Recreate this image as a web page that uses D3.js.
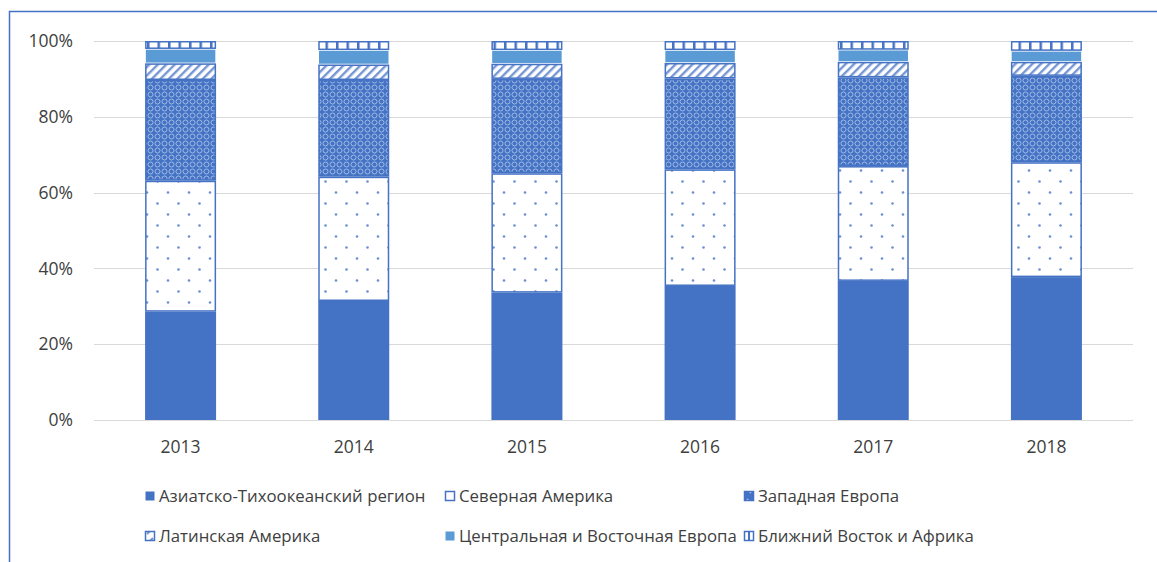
<!DOCTYPE html>
<html>
<head>
<meta charset="utf-8">
<script src="https://cdn.jsdelivr.net/npm/d3@7"></script>
<style>
  body { margin: 0; background: #fff; }
  svg text { font-family: "Open Sans", "Noto Sans", sans-serif; fill: #404040; }
</style>
</head>
<body>
<div id="chart"></div>
<script>
// ---------- data (shares, %) ----------
const years = ["2013", "2014", "2015", "2016", "2017", "2018"];
const regions = [
  "Азиатско-Тихоокеанский регион",
  "Северная Америка",
  "Западная Европа",
  "Латинская Америка",
  "Центральная и Восточная Европа",
  "Ближний Восток и Африка"
];
const asiaPacific   = [28.6, 31.4, 33.6, 35.4, 36.7, 37.7];
const northAmerica  = [34.6, 32.8, 31.5, 30.8, 30.3, 30.3];
const westEurope    = [26.6, 25.5, 24.9, 24.0, 23.4, 22.8];
const latinAmerica  = [4.4, 4.1, 4.0, 4.1, 4.1, 3.7];
const centralEurope = [3.8, 3.8, 3.6, 3.4, 3.2, 2.9];
const middleEast    = [2.1, 2.4, 2.4, 2.4, 2.3, 2.6];
const yTicks = [0, 0.2, 0.4, 0.6, 0.8, 1];

const series = [asiaPacific, northAmerica, westEurope, latinAmerica, centralEurope, middleEast];
const rows = years.map((y, i) => {
  let r = { year: y };
  regions.forEach((name, k) => r[name] = series[k][i]);
  return r;
});

const blue = "#4472C4";
const lightBlue = "#5B9BD5";

const width = 1157, height = 562;
const svg = d3.select("#chart").append("svg")
  .attr("width", width)
  .attr("height", height);

//----------------------------------------
// Patterns
//----------------------------------------
const defs = svg.append("defs");

// dots (north america)
let pDots = defs.append("pattern").attr("id", "pDots")
  .attr("patternUnits", "userSpaceOnUse").attr("width", 21).attr("height", 22);
pDots.append("rect").attr("width", 21).attr("height", 22).attr("fill", "#fff");
pDots.append("circle").attr("cx", 10.5).attr("cy", 5.5).attr("r", 1.3).attr("fill", "#6a8fd2");
pDots.append("circle").attr("cx", 0).attr("cy", 16.5).attr("r", 1.3).attr("fill", "#6a8fd2");
pDots.append("circle").attr("cx", 21).attr("cy", 16.5).attr("r", 1.3).attr("fill", "#6a8fd2");

// rings (west europe)
let pRings = defs.append("pattern").attr("id", "pRings")
  .attr("patternUnits", "userSpaceOnUse").attr("width", 7).attr("height", 7);
pRings.append("rect").attr("width", 7).attr("height", 7).attr("fill", blue);
pRings.append("circle").attr("cx", 3.5).attr("cy", 3.5).attr("r", 2.5)
  .attr("fill", "none").attr("stroke", "#a9bfe6").attr("stroke-width", 0.9);

// wide upward diagonal (latin america)
let pDiag = defs.append("pattern").attr("id", "pDiag")
  .attr("patternUnits", "userSpaceOnUse").attr("width", 6).attr("height", 6)
  .attr("patternTransform", "rotate(45)");
pDiag.append("rect").attr("width", 6).attr("height", 6).attr("fill", "#fff");
pDiag.append("rect").attr("width", 2.4).attr("height", 6).attr("fill", "#7596d3");

// vertical lines (middle east)
let pVert = defs.append("pattern").attr("id", "pVert")
  .attr("patternUnits", "userSpaceOnUse").attr("width", 10.5).attr("height", 10);
pVert.append("rect").attr("width", 10.5).attr("height", 10).attr("fill", "#fff");
pVert.append("rect").attr("width", 2.5).attr("height", 10).attr("fill", blue);

const fills = [blue, "url(#pDots)", "url(#pRings)", "url(#pDiag)", lightBlue, "url(#pVert)"];
const legendFills = [blue, "#fff", "url(#pRingsL)", "url(#pDiagL)", lightBlue, "url(#pVertL)"];

//----------------------------------------
// Frame
//----------------------------------------
svg.append("rect")
  .attr("x", 9.5).attr("y", 11.5)
  .attr("width", 1200).attr("height", 600)
  .attr("fill", "none").attr("stroke", blue).attr("stroke-width", 1.5);

//----------------------------------------
// Scales
//----------------------------------------
const x = d3.scaleBand().domain(years).range([94, 1133])
  .paddingInner(0.59).paddingOuter(0.295);
const y = d3.scaleLinear().domain([0, 1]).range([420, 41]);

// gridlines
svg.append("g").selectAll("line")
  .data(yTicks)
  .enter()
  .append("line")
  .attr("x1", 94).attr("x2", 1133)
  .attr("y1", d => Math.round(y(d)) + 0.5)
  .attr("y2", d => Math.round(y(d)) + 0.5)
  .attr("stroke", "#d9d9d9").attr("stroke-width", 1);

// y tick labels
svg.append("g").selectAll("text")
  .data(yTicks)
  .enter()
  .append("text")
  .attr("x", 73)
  .attr("y", d => y(d))
  .attr("dy", "0.35em")
  .attr("text-anchor", "end")
  .style("font-size", "17.5px")
  .text(d => d3.format(".0%")(d));

// x labels
svg.append("g").selectAll("text")
  .data(years)
  .enter()
  .append("text")
  .attr("x", d => x(d) + x.bandwidth() / 2)
  .attr("y", 447)
  .attr("dy", "0.35em")
  .attr("text-anchor", "middle")
  .style("font-size", "17.5px")
  .text(d => d);

//----------------------------------------
// Stacked bars
//----------------------------------------
const stack = d3.stack().keys(regions).offset(d3.stackOffsetExpand);
const layers = stack(rows);

svg.append("g").selectAll("g")
  .data(layers)
  .enter()
  .append("g")
  .each(function (layer, k) {
    d3.select(this).selectAll("rect")
      .data(layer)
      .enter()
      .append("rect")
      .attr("x", d => x(d.data.year) + (k == 0 ? 0 : 0.75))
      .attr("y", d => y(d[1]) + (k == 0 ? 0 : 0.75))
      .attr("width", x.bandwidth() - (k == 0 ? 0 : 1.5))
      .attr("height", d => Math.max(0, y(d[0]) - y(d[1]) - (k == 0 ? 0 : 1.5)))
      .attr("fill", fills[k])
      .attr("stroke", k == 0 || k == 4 ? "none" : blue)
      .attr("stroke-width", 1.5);
  });

//----------------------------------------
// Legend
//----------------------------------------
let pRingsL = defs.append("pattern").attr("id", "pRingsL")
  .attr("patternUnits", "userSpaceOnUse").attr("width", 10).attr("height", 10);
pRingsL.append("rect").attr("width", 10).attr("height", 10).attr("fill", blue);
pRingsL.append("path").attr("d", "M3,3L7,7").attr("stroke", "#c9d6ef").attr("stroke-width", 1.5);

let pDiagL = defs.append("pattern").attr("id", "pDiagL")
  .attr("patternUnits", "userSpaceOnUse").attr("width", 10).attr("height", 10);
pDiagL.append("rect").attr("width", 10).attr("height", 10).attr("fill", "#fff");
pDiagL.append("path").attr("d", "M2,8L8,2").attr("stroke", "#7596d3").attr("stroke-width", 2);

let pVertL = defs.append("pattern").attr("id", "pVertL")
  .attr("patternUnits", "userSpaceOnUse").attr("width", 10).attr("height", 10);
pVertL.append("rect").attr("width", 10).attr("height", 10).attr("fill", "#fff");
pVertL.append("rect").attr("x", 4).attr("width", 2).attr("height", 10).attr("fill", blue);

const legendCols = [145, 445, 744];
const legendRows = [496, 536];

let legend = svg.append("g").selectAll("g")
  .data(regions)
  .enter()
  .append("g")
  .attr("transform", (d, i) => `translate(${legendCols[i % 3]},${legendRows[Math.floor(i / 3)]})`);

legend.append("rect")
  .attr("x", 0.5).attr("y", -4.5)
  .attr("width", 9).attr("height", 9)
  .attr("fill", (d, i) => legendFills[i])
  .attr("stroke", (d, i) => (i == 0 || i == 4) ? "none" : blue)
  .attr("stroke-width", 1.5);

legend.append("text")
  .attr("x", 14)
  .attr("y", 0)
  .attr("dy", "0.35em")
  .style("font-size", "16.8px")
  .text(d => d);
</script>
</body>
</html>
